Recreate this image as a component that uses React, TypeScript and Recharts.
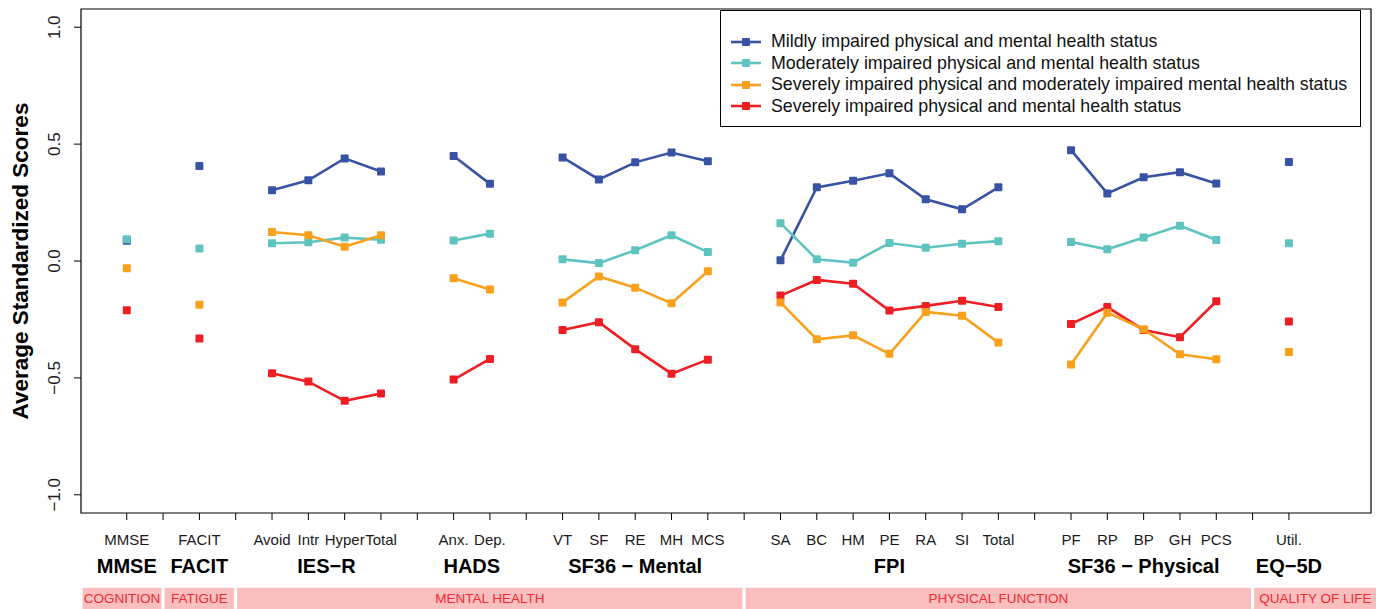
import React from 'react';
import { LineChart, Line, XAxis, YAxis, ReferenceArea, Legend, Label } from 'recharts';

const measures = [
  'MMSE', 'FACIT', 'Avoid', 'Intr', 'Hyper', 'Total', 'Anx.', 'Dep.',
  'VT', 'SF', 'RE', 'MH', 'MCS', 'SA', 'BC', 'HM', 'PE', 'RA', 'SI', 'Total',
  'PF', 'RP', 'BP', 'GH', 'PCS', 'Util.',
];
const groupNames = ['MMSE', 'FACIT', 'IES\u2212R', 'HADS', 'SF36 \u2212 Mental', 'FPI', 'SF36 \u2212 Physical', 'EQ\u22125D'];
const groupSizes = [1, 1, 4, 2, 5, 7, 5, 1];
const domainNames = ['COGNITION', 'FATIGUE', 'MENTAL HEALTH', 'PHYSICAL FUNCTION', 'QUALITY OF LIFE'];
const domainGroupCounts = [1, 1, 3, 2, 1];

const mild = [0.087, 0.406, 0.303, 0.345, 0.439, 0.383, 0.449, 0.330, 0.443, 0.349, 0.422, 0.464, 0.427,
  0.003, 0.315, 0.343, 0.375, 0.264, 0.221, 0.315, 0.474, 0.289, 0.358, 0.380, 0.332, 0.423];
const moderate = [0.093, 0.053, 0.076, 0.080, 0.100, 0.091, 0.088, 0.117, 0.007, -0.009, 0.046, 0.110, 0.038,
  0.162, 0.007, -0.007, 0.077, 0.057, 0.074, 0.085, 0.081, 0.050, 0.101, 0.151, 0.090, 0.076];
const severeModerate = [-0.031, -0.187, 0.124, 0.110, 0.061, 0.110, -0.074, -0.122, -0.177, -0.066, -0.114, -0.181, -0.044,
  -0.177, -0.335, -0.318, -0.397, -0.218, -0.234, -0.349, -0.443, -0.221, -0.292, -0.399, -0.420, -0.389];
const severe = [-0.211, -0.332, -0.480, -0.516, -0.598, -0.567, -0.507, -0.419, -0.295, -0.262, -0.377, -0.482, -0.422,
  -0.148, -0.081, -0.097, -0.212, -0.192, -0.170, -0.197, -0.269, -0.197, -0.295, -0.326, -0.172, -0.259];

const yTicks = [-1, -0.5, 0, 0.5, 1];

const SERIES = [
  { key: 'mild', name: 'Mildly impaired physical and mental health status', color: '#3953A4', values: mild },
  { key: 'moderate', name: 'Moderately impaired physical and mental health status', color: '#5FC4BF', values: moderate },
  { key: 'severeModerate', name: 'Severely impaired physical and moderately impaired mental health status', color: '#F9A11D', values: severeModerate },
  { key: 'severe', name: 'Severely impaired physical and mental health status', color: '#ED1F24', values: severe },
];
// draw order: orange on top
const DRAW_ORDER = ['mild', 'moderate', 'severe', 'severeModerate'];

// slot layout, one empty slot between groups
const slotOfMeasure: number[] = [];
const groupSpans: { name: string; first: number; last: number }[] = [];
let slot = 0;
groupSizes.forEach((n, g) => {
  const first = slot;
  for (let i = 0; i < n; i++) { slotOfMeasure.push(slot); slot++; }
  groupSpans.push({ name: groupNames[g], first, last: slot - 1 });
  slot++;
});
const lastSlot = slot - 2;

const X_MIN = -1.26;
const X_MAX = lastSlot + 2.26;
const Y_LIM = 1.078;

const data = Array.from({ length: lastSlot + 1 }, (_, x) => {
  const row: any = { x };
  const mi = slotOfMeasure.indexOf(x);
  SERIES.forEach(s => { row[s.key] = mi >= 0 ? s.values[mi] : null; });
  return row;
});

const slotLabel: Record<number, string> = {};
slotOfMeasure.forEach((s, i) => { slotLabel[s] = measures[i]; });
const groupCenter: Record<string, string> = {};
groupSpans.forEach(g => { groupCenter[String((g.first + g.last) / 2)] = g.name; });

const xTicks = Array.from(new Set([
  ...Array.from({ length: lastSlot + 1 }, (_, i) => i),
  ...groupSpans.map(g => (g.first + g.last) / 2),
])).sort((a, b) => a - b);

const bands: { name: string; x1: number; x2: number }[] = [];
let gi = 0;
domainGroupCounts.forEach((cnt, d) => {
  const first = groupSpans[gi].first;
  const last = groupSpans[gi + cnt - 1].last;
  bands.push({
    name: domainNames[d],
    x1: first === 0 ? X_MIN : first - 1,
    x2: last === lastSlot ? X_MAX + 0.2 : last + 1,
  });
  gi += cnt;
});

const FONT = "'Liberation Sans', Arial, sans-serif";

const SlotTick = (props: any) => {
  const { x, y, payload } = props;
  const v = payload.value;
  const isSlot = Number.isInteger(v);
  const grp = groupCenter[String(v)];
  return (
    <g>
      {isSlot && <line x1={x} y1={y} x2={x} y2={y + 7} stroke="#000" strokeWidth={1} />}
      {isSlot && slotLabel[v] && (
        <text x={x} y={y + 32} textAnchor="middle" fontSize={15} fill="#1a1a1a" fontFamily={FONT}>{slotLabel[v]}</text>
      )}
      {grp && (
        <text x={x} y={y + 60} textAnchor="middle" fontSize={20} fontWeight="bold" fill="#000" fontFamily={FONT}>{grp}</text>
      )}
    </g>
  );
};

const YTick = (props: any) => {
  const { y, payload } = props;
  const label = payload.value.toFixed(1).replace('-', '\u2212');
  const bx = 60;
  return (
    <text x={bx} y={y} transform={`rotate(-90, ${bx}, ${y})`} textAnchor="middle" fontSize={17} fill="#1a1a1a" fontFamily={FONT}>{label}</text>
  );
};

const makeDot = (color: string) => (p: any) => {
  if (p.cx == null || p.cy == null || p.value == null) return <g key={`e${p.index}`} />;
  return <rect key={`d${p.index}`} x={p.cx - 4} y={p.cy - 4} width={8} height={8} rx={1} fill={color} />;
};

const LegendBox = () => (
  <div style={{
    width: 641, height: 117, border: '1px solid #000', boxSizing: 'border-box', background: '#fff',
    paddingTop: 20, fontFamily: FONT, fontSize: 17.8, color: '#111',
  }}>
    {SERIES.map(s => (
      <div key={s.key} style={{ display: 'flex', alignItems: 'center', height: 21.5 }}>
        <svg width={50} height={12} style={{ flex: 'none' }}>
          <line x1={10} y1={6} x2={40} y2={6} stroke={s.color} strokeWidth={2.6} />
          <rect x={21} y={2} width={8} height={8} rx={1} fill={s.color} />
        </svg>
        <span style={{ whiteSpace: 'nowrap' }}>{s.name}</span>
      </div>
    ))}
  </div>
);

export default function App() {
  return (
    <div style={{ position: 'absolute', left: 0, top: 0, background: '#fff', fontFamily: FONT }}>
      <LineChart width={1376} height={609} data={data} margin={{ top: 9, right: 5, bottom: 0, left: 0 }}>
        <XAxis
          type="number" dataKey="x" domain={[X_MIN, X_MAX]} ticks={xTicks} interval={0}
          tickLine={false} axisLine={false} tickSize={0} tickMargin={0} height={96} tick={<SlotTick />}
          allowDataOverflow
        />
        <YAxis
          type="number" domain={[-Y_LIM, Y_LIM]} ticks={yTicks} interval={0} width={81}
          axisLine={false} tickSize={7} tickLine={{ stroke: '#000' }} tick={<YTick />} allowDataOverflow
        >
          <Label content={(p: any) => {
            const vb = p.viewBox || {};
            const cy = (vb.y ?? 9) + (vb.height ?? 504) / 2;
            const bx = 28;
            return (
              <text x={bx} y={cy} transform={`rotate(-90, ${bx}, ${cy})`} textAnchor="middle" fontSize={22.5} fontWeight="bold" fill="#000" fontFamily={FONT}>
                Average Standardized Scores
              </text>
            );
          }} />
        </YAxis>
        <ReferenceArea x1={X_MIN} x2={X_MAX} y1={-Y_LIM} y2={Y_LIM} fill="none" stroke="#000" strokeWidth={1.2} ifOverflow="visible" />
        {bands.map(b => (
          <ReferenceArea
            key={b.name} x1={b.x1} x2={b.x2} y1={-1.496} y2={-1.391} ifOverflow="visible"
            fill="#F9BEBE" fillOpacity={1} stroke="#fff" strokeWidth={3}
            label={{ value: b.name, position: 'center', fill: '#EE2A33', fontSize: 13.5, fontFamily: FONT }}
          />
        ))}
        {DRAW_ORDER.map(k => {
          const s = SERIES.find(q => q.key === k)!;
          return (
            <Line
              key={s.key} type="linear" dataKey={s.key} name={s.name} stroke={s.color} strokeWidth={2.6}
              dot={makeDot(s.color)} activeDot={false} isAnimationActive={false} connectNulls={false}
            />
          );
        })}
        <Legend
          layout="vertical" align="center" verticalAlign="middle" content={<LegendBox />}
          wrapperStyle={{ left: 720, top: 10, width: 641, height: 117 }}
        />
      </LineChart>
    </div>
  );
}
